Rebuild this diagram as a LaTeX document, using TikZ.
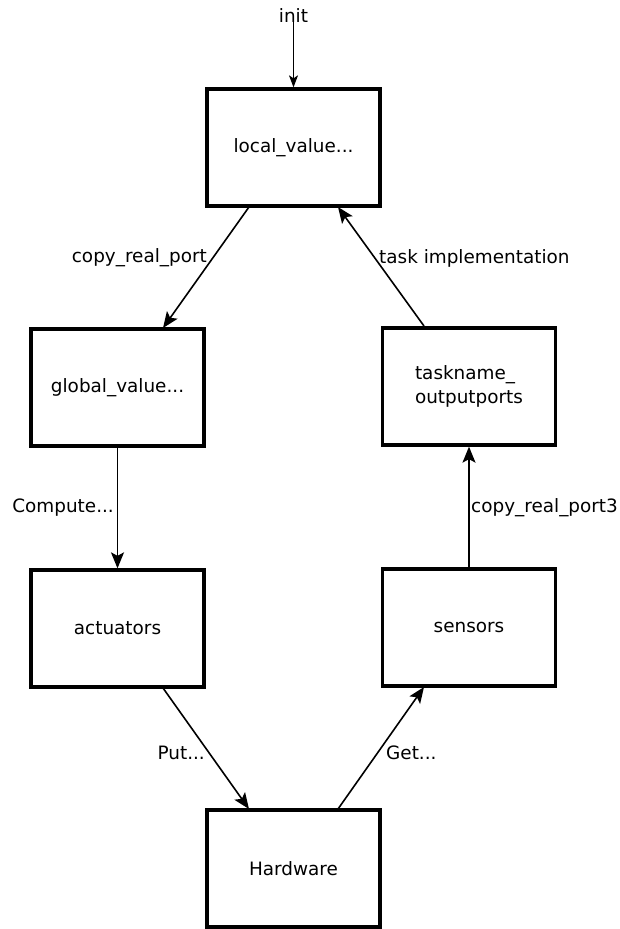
\documentclass[tikz,border=0pt]{standalone}
\usepackage{fontspec}
\setmainfont{DejaVu Sans}
\usetikzlibrary{arrows.meta}
\begin{document}
\begin{tikzpicture}[x=1pt,y=-1pt,
  font=\fontsize{18.4}{24}\selectfont,
  box/.style={draw,line width=3.3pt,minimum width=173pt,minimum height=117pt,inner sep=0pt},
  conn/.style={line width=1.6pt,-{Stealth[length=16pt,width=13pt,inset=3.5pt]}},
  lbl/.style={inner sep=0pt}]
\useasboundingbox (0,0) rectangle (619,929);
\node[box] (local) at (293.5,147.5) {local\_value...};
\node[box] (global) at (117.5,387.5) {global\_value...};
\node[box,align=left] (task) at (469,386.5) {taskname\_\\outputports};
\node[box] (act) at (117.5,628.5) {actuators};
\node[box] (sens) at (469,627.5) {sensors};
\node[box] (hw) at (293.5,868.5) {Hardware};
\node[lbl] (init) at (293.5,16) {init};
\draw[line width=1.2pt,-{Stealth[length=12pt,width=9pt,inset=3pt]}] (init.south) ++(0,-3) -- (local.north);
\draw[conn] (249,207) -- (163,328);
\draw[conn] (424,326) -- (338,207);
\draw[conn] (global.south) -- (act.north);
\draw[conn] (sens.north) -- (task.south);
\draw[conn] (163,688) -- (249,809);
\draw[conn] (338,809) -- (424,687);
\node[lbl,anchor=east] (l1) at (207,258) {copy\_real\_port};
\node[lbl,anchor=west] (l2) at (379,258) {task implementation};
\node[lbl,anchor=east] (l3) at (114,508) {Compute...};
\node[lbl,anchor=west] (l4) at (471,508) {copy\_real\_port3};
\node[lbl,anchor=east] (l5) at (205,753) {Put...};
\node[lbl,anchor=west] (l6) at (386,753) {Get...};
\end{tikzpicture}
\end{document}
